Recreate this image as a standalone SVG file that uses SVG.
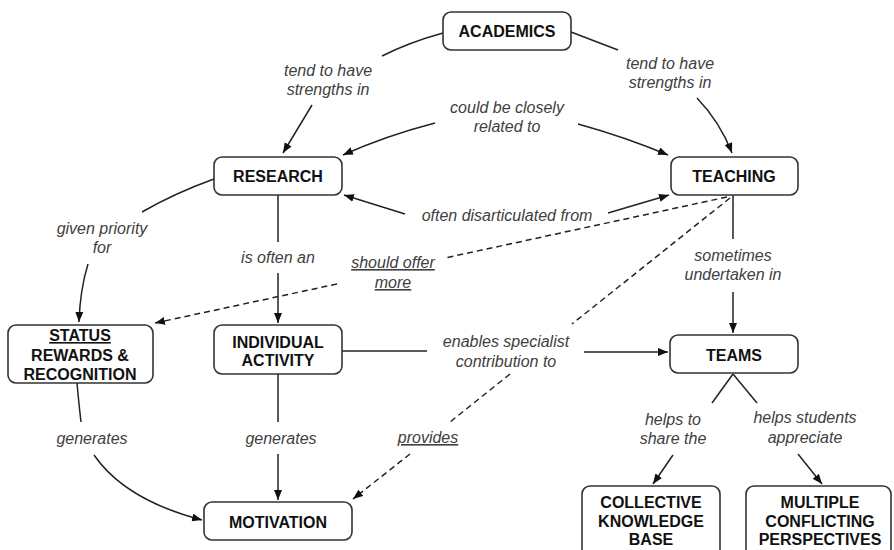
<svg xmlns="http://www.w3.org/2000/svg" width="894" height="550" viewBox="0 0 894 550">
<defs>
<marker id="arr" markerUnits="userSpaceOnUse" markerWidth="11" markerHeight="9" refX="10" refY="4" orient="auto">
<path d="M0,0 L10,4 L0,8 z" fill="#111"/>
</marker>
<style>
.box{fill:#fff;stroke:#333;stroke-width:1.6}
.nt{font-family:"Liberation Sans",Arial,sans-serif;font-weight:bold;font-size:16px;fill:#111;text-anchor:middle}
.lt{font-family:"Liberation Sans",Arial,sans-serif;font-style:italic;font-size:16px;fill:#404040;text-anchor:middle}
.u{text-decoration:underline}
.ln{fill:none;stroke:#222;stroke-width:1.5}
.ar{marker-end:url(#arr)}
.ds{stroke-dasharray:6,4}
</style>
</defs>
<rect width="894" height="550" fill="#fff"/>
<g id="connectors">
<path class="ln" d="M443,33 Q410,42 382,56"/>
<path class="ln ar" d="M312,105 Q298,128 283,153"/>
<path class="ln" d="M571,32 L618,50"/>
<path class="ln ar" d="M697,98 Q720,122 732,153"/>
<path class="ln ar" d="M435,123 Q385,136 343,155"/>
<path class="ln ar" d="M578,124 Q625,137 668,155"/>
<path class="ln ar" d="M405,214 L344,195"/>
<path class="ln ar" d="M608,213 L669,195"/>
<path class="ln" d="M278,195 V242"/>
<path class="ln ar" d="M278,273 V323"/>
<path class="ln" d="M214,179 Q175,193 142,212"/>
<path class="ln ar" d="M88,264 Q80,290 79,322"/>
<path class="ln ds" d="M727,197 L445,258"/>
<path class="ln ds ar" d="M337,284 L155,323"/>
<path class="ln ds" d="M730,198 L572,324"/>
<path class="ln ds" d="M510,374 L450,422"/>
<path class="ln ds ar" d="M410,454 L353,499"/>
<path class="ln" d="M733,195 V239"/>
<path class="ln ar" d="M733,292 V333"/>
<path class="ln" d="M342,351 H427"/>
<path class="ln ar" d="M584,352 H668"/>
<path class="ln" d="M733,374 L712,403"/>
<path class="ln ar" d="M673,455 L653,484"/>
<path class="ln" d="M733,374 L757,403"/>
<path class="ln ar" d="M798,454 L822,484"/>
<path class="ln" d="M77,383 Q79,405 81,422"/>
<path class="ln ar" d="M94,455 Q125,500 202,520"/>
<path class="ln" d="M278,374 V422"/>
<path class="ln ar" d="M278,454 V500"/>
</g>
<g id="labels">
<text class="lt" x="328" y="76">tend to have</text>
<text class="lt" x="328" y="95">strengths in</text>
<text class="lt" x="670" y="69">tend to have</text>
<text class="lt" x="670" y="88">strengths in</text>
<text class="lt" x="507" y="113">could be closely</text>
<text class="lt" x="507" y="132">related to</text>
<text class="lt" x="507" y="221">often disarticulated from</text>
<text class="lt" x="102" y="234">given priority</text>
<text class="lt" x="102" y="253">for</text>
<text class="lt" x="278" y="263">is often an</text>
<text class="lt u" x="393" y="268">should offer</text>
<text class="lt u" x="393" y="288">more</text>
<text class="lt" x="733" y="261">sometimes</text>
<text class="lt" x="733" y="280">undertaken in</text>
<text class="lt" x="506" y="347">enables specialist</text>
<text class="lt" x="506" y="367">contribution to</text>
<text class="lt" x="92" y="444">generates</text>
<text class="lt" x="281" y="444">generates</text>
<text class="lt u" x="428" y="443">provides</text>
<text class="lt" x="673" y="425">helps to</text>
<text class="lt" x="673" y="444">share the</text>
<text class="lt" x="805" y="423">helps students</text>
<text class="lt" x="805" y="443">appreciate</text>
</g>
<g id="academics"><rect class="box" x="443" y="12" width="128" height="38" rx="8"/><text class="nt" x="507" y="37">ACADEMICS</text></g>
<g id="research"><rect class="box" x="214" y="157" width="128" height="38" rx="8"/><text class="nt" x="278" y="182">RESEARCH</text></g>
<g id="teaching"><rect class="box" x="671" y="157" width="127" height="38" rx="8"/><text class="nt" x="734" y="182">TEACHING</text></g>
<g id="status"><rect class="box" x="8" y="325" width="145" height="58" rx="8"/><text class="nt u" x="80" y="341">STATUS</text><text class="nt" x="80" y="361">REWARDS &amp;</text><text class="nt" x="80" y="380">RECOGNITION</text></g>
<g id="individual-activity"><rect class="box" x="214" y="325" width="128" height="49" rx="8"/><text class="nt" x="278" y="348">INDIVIDUAL</text><text class="nt" x="278" y="366">ACTIVITY</text></g>
<g id="teams"><rect class="box" x="670" y="335" width="128" height="38" rx="8"/><text class="nt" x="734" y="361">TEAMS</text></g>
<g id="motivation"><rect class="box" x="204" y="502" width="148" height="38" rx="8"/><text class="nt" x="278" y="528">MOTIVATION</text></g>
<g id="collective-knowledge-base"><rect class="box" x="582" y="486" width="138" height="80" rx="8"/><text class="nt" x="651" y="508">COLLECTIVE</text><text class="nt" x="651" y="527">KNOWLEDGE</text><text class="nt" x="651" y="545">BASE</text></g>
<g id="multiple-conflicting-perspectives"><rect class="box" x="746" y="486" width="145" height="80" rx="8"/><text class="nt" x="820" y="508">MULTIPLE</text><text class="nt" x="820" y="527">CONFLICTING</text><text class="nt" x="820" y="545">PERSPECTIVES</text></g>
</svg>
